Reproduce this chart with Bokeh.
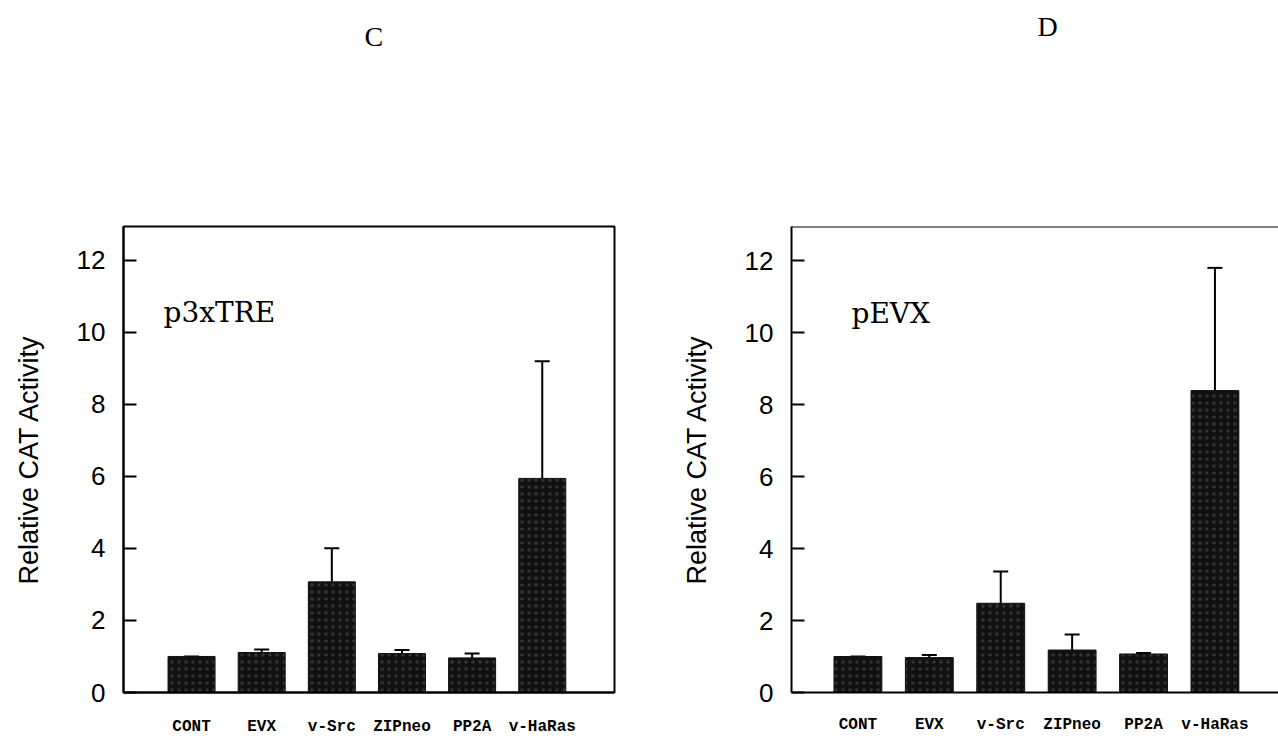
from bokeh.plotting import figure
from bokeh.models import (ColumnDataSource, Whisker, TeeHead, Label, FixedTicker,
                          Range1d, Span, Title)
from bokeh.layouts import row
from bokeh.embed import file_html
from bokeh.resources import INLINE

# ---------------- data ----------------
categories = ["CONT", "EVX", "v-Src", "ZIPneo", "PP2A", "v-HaRas"]
positions = [1, 2, 3, 4, 5, 6]

c_values = [1.0, 1.11, 3.07, 1.08, 0.96, 5.94]
c_errors = [0.0, 0.08, 0.93, 0.10, 0.12, 3.25]

d_values = [1.0, 0.97, 2.48, 1.18, 1.07, 8.39]
d_errors = [0.0, 0.07, 0.88, 0.43, 0.03, 3.41]

y_ticks = [0, 2, 4, 6, 8, 10, 12]
panel_letters = ["C", "D"]
construct_names = ["p3xTRE", "pEVX"]
y_label = "Relative CAT Activity"

HEIGHT = 738


def make_panel(values, errors, letter, construct, x_range, y_end, width,
               b_left, b_right, b_top, b_bottom, construct_x, title_offset,
               spacer_standoff, x_label_standoff, full_box):
    p = figure(width=width, height=HEIGHT, output_backend="svg",
               toolbar_location=None, x_range=Range1d(*x_range),
               y_range=Range1d(0, y_end), min_border_left=b_left,
               min_border_right=b_right, min_border_top=b_top,
               min_border_bottom=b_bottom, background_fill_color="white",
               border_fill_color="white", title=letter)
    p.grid.visible = False
    # panel letter (outer title)
    p.title.align = "left"
    p.title.vertical_align = "top"
    p.title.text_font = "Liberation Serif"
    p.title.text_font_size = "28px"
    p.title.text_font_style = "normal"
    p.title.text_color = "black"
    p.title.standoff = 12
    p.title.offset = title_offset
    # empty spacer title (inner, next to the frame)
    p.add_layout(Title(text=" ", text_font_size="1px",
                       standoff=spacer_standoff), "above")

    if full_box:
        p.outline_line_color = "black"
        p.outline_line_width = 2
        p.outline_line_alpha = 1
    else:
        p.outline_line_color = None
        p.add_layout(Span(location=y_end, dimension="width", line_color="black",
                          line_width=2))

    src = ColumnDataSource(dict(x=positions, top=values,
                                upper=[v + e for v, e in zip(values, errors)],
                                name=categories))
    p.vbar(x="x", top="top", bottom=0, width=0.67, source=src,
           fill_color="#111111", line_color="#111111", line_width=1,
           hatch_pattern="dot", hatch_color="#9a9a9a", hatch_scale=7,
           hatch_weight=1, hatch_alpha=0.25)
    w = Whisker(base="x", lower="top", upper="upper", source=src,
                line_color="black", line_width=2,
                upper_head=TeeHead(size=15, line_width=2, line_color="black"),
                lower_head=None)
    p.add_layout(w)

    # y axis
    ya = p.left[0]
    ya.ticker = FixedTicker(ticks=y_ticks)
    ya.minor_tick_line_color = None
    ya.major_tick_in = 13
    ya.major_tick_out = 0
    ya.major_tick_line_width = 2
    ya.axis_line_width = 2
    ya.major_label_standoff = 18
    ya.major_label_text_font = "Liberation Sans"
    ya.major_label_text_font_size = "26px"
    ya.major_label_text_color = "black"
    ya.axis_label = y_label
    ya.axis_label_text_font = "Liberation Sans"
    ya.axis_label_text_font_size = "27px"
    ya.axis_label_text_font_style = "normal"
    ya.axis_label_text_color = "black"
    ya.axis_label_standoff = 30

    # x axis
    xa = p.below[0]
    xa.ticker = FixedTicker(ticks=positions)
    xa.major_label_overrides = {pos: name for pos, name in zip(positions, categories)}
    xa.major_tick_line_color = None
    xa.minor_tick_line_color = None
    xa.axis_line_width = 2
    xa.major_label_standoff = x_label_standoff
    xa.major_label_text_font = "Liberation Mono"
    xa.major_label_text_font_style = "bold"
    xa.major_label_text_font_size = "16px"
    xa.major_label_text_color = "black"

    p.add_layout(Label(x=construct_x, y=10.54, text=construct,
                       text_font="DejaVu Serif", text_font_size="28px",
                       text_color="black", text_baseline="alphabetic",
                       text_align="left"))
    return p


pc = make_panel(c_values, c_errors, panel_letters[0], construct_names[0],
                (0.03, 7.03), 12.93, 650, 123, 36, 223, 46, 0.6, 241, 164, 19,
                True)
pd_ = make_panel(d_values, d_errors, panel_letters[1], construct_names[1],
                 (0.07, 6.89), 12.95, 628, 141, 0, 226, 44, 0.91, 246, 174, 17,
                 False)

layout = row(pc, pd_)
open("out.html", "w").write(file_html(layout, INLINE))
